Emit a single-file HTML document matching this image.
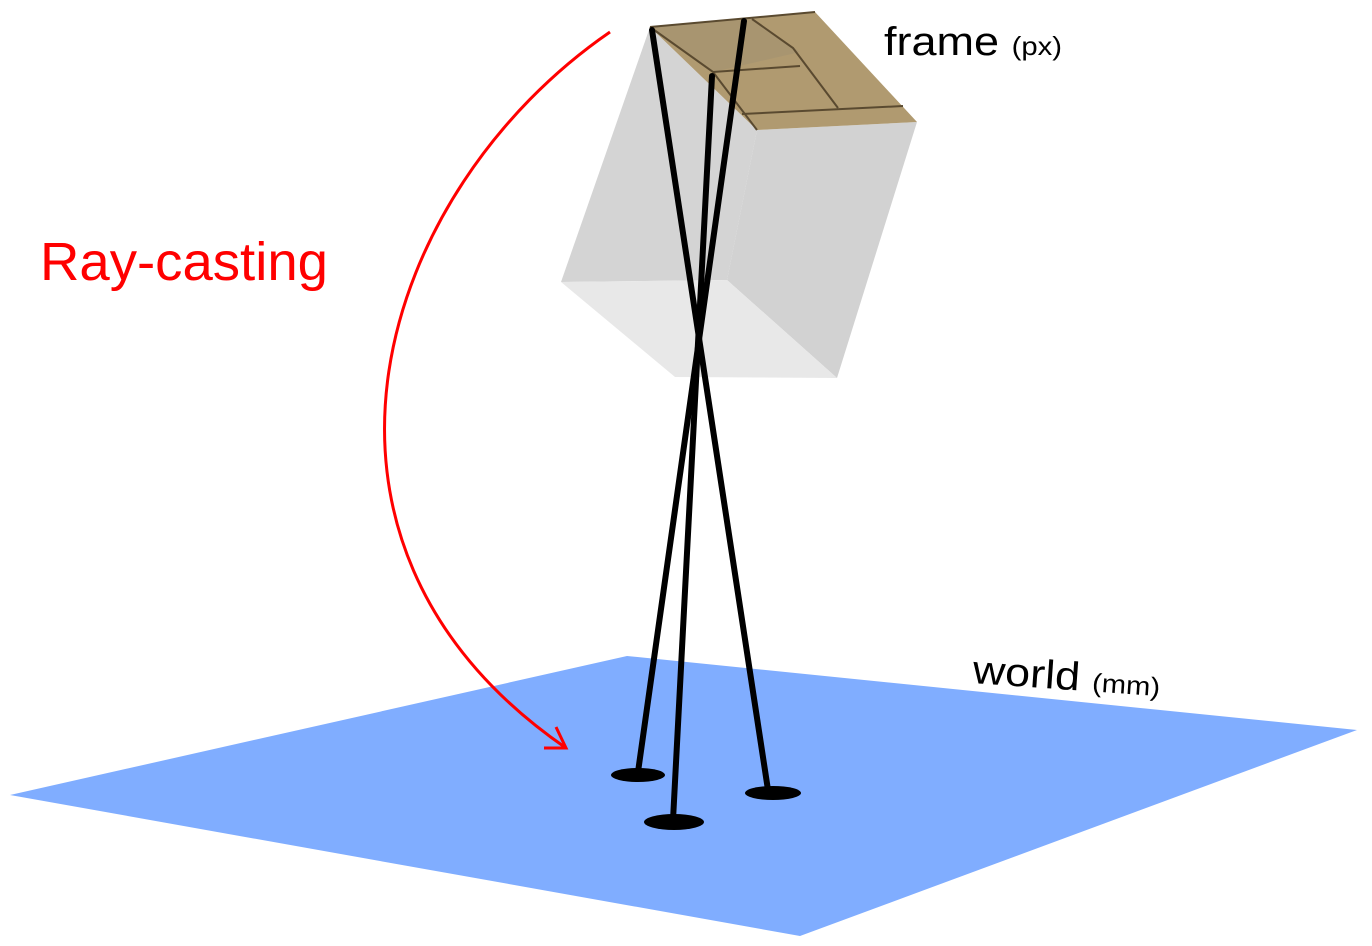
<!DOCTYPE html>
<html><head><meta charset="utf-8"><style>
html,body{margin:0;padding:0;background:#fff;}
svg{display:block;font-family:"Liberation Sans",Arial,sans-serif;}
</style></head><body>
<svg width="1372" height="946" viewBox="0 0 1372 946">
  <polygon points="10,795 627,656 1357,730 800,936" fill="#80adff"/>
  <g>
    <polygon points="650,27 561,282 727,280 757,130" fill="#d4d4d4"/>
    <polygon points="757,130 917,122 837,378 727,280" fill="#d2d2d2"/>
    <polygon points="561,282 727,280 837,378 675,377" fill="#e8e8e8"/>
  </g>
  <g>
    <polygon points="650,27 815,12 917,122 757,130" fill="#b09a70"/>
    <polygon points="650,27 752,19 800,52 713,72" fill="#a89570"/>
    <g stroke="#5a4a30" stroke-width="2" fill="none">
      <polyline points="650,27 713,72 800,66"/>
      <polyline points="752,19 793,48 838,108"/>
      <line x1="713" y1="72" x2="757" y2="130"/>
      <line x1="742" y1="114" x2="903" y2="106"/>
      <line x1="650" y1="27" x2="815" y2="12"/>
    </g>
  </g>
  <g stroke="#000" stroke-width="6" stroke-linecap="round">
    <line x1="652" y1="30" x2="768" y2="790"/>
    <line x1="744" y1="21" x2="638" y2="772"/>
    <line x1="712" y1="76" x2="673" y2="820"/>
  </g>
  <ellipse cx="638" cy="775" rx="27" ry="7" fill="#000"/>
  <ellipse cx="773" cy="793" rx="28" ry="7" fill="#000"/>
  <ellipse cx="674" cy="822" rx="30" ry="8" fill="#000"/>
  <g stroke="#f00" stroke-width="3" fill="none">
    <path d="M610,32 C380,190 265,540 566,748"/>
    <polyline points="556,727 566,748 544,748"/>
  </g>
  <text x="40" y="280" font-size="54" fill="#f00" textLength="288" lengthAdjust="spacingAndGlyphs">Ray-casting</text>
  <text x="884" y="55" font-size="40" fill="#000" textLength="178" lengthAdjust="spacingAndGlyphs">frame <tspan font-size="26">(px)</tspan></text>
  <text x="972" y="683" font-size="40" fill="#000" transform="rotate(4 972 683)" textLength="188" lengthAdjust="spacingAndGlyphs">world <tspan font-size="26">(mm)</tspan></text>
</svg>
</body></html>
